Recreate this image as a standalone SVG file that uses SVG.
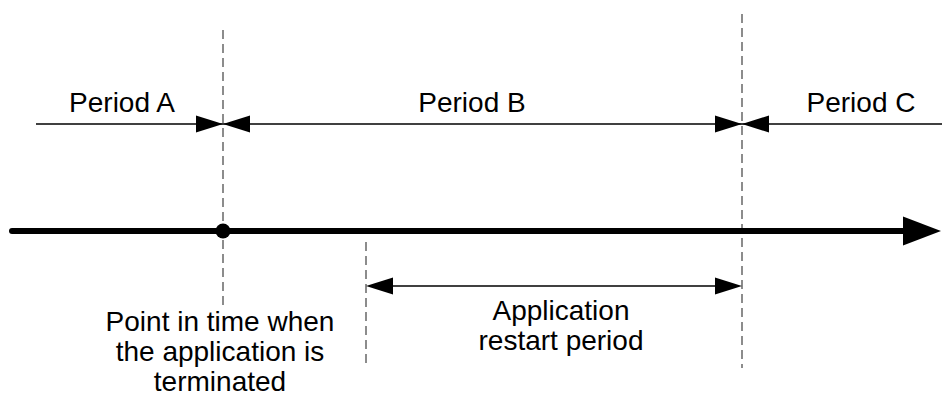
<svg xmlns="http://www.w3.org/2000/svg" width="942" height="400" viewBox="0 0 942 400">
  <style>
    .lbl { font-family: "Liberation Sans", Arial, sans-serif; font-size: 28px; fill: #000; text-anchor: middle; }
    .dash { stroke: #8c8c8c; stroke-width: 2; stroke-dasharray: 9 5; fill: none; }
    .thin { stroke: #000; stroke-width: 1.4; fill: none; }
    .head { fill: #000; stroke: none; }
  </style>
  <defs>
    <path id="hr" class="head" d="M0,0 L-27,-8.5 L-27,8.5 Z"/>
    <path id="hl" class="head" d="M0,0 L27,-8.5 L27,8.5 Z"/>
  </defs>
  <g id="guides">
    <line class="dash" x1="223" y1="30" x2="223" y2="306"/>
    <line class="dash" x1="742" y1="14" x2="742" y2="368"/>
    <line class="dash" x1="366" y1="242" x2="366" y2="368"/>
  </g>
  <g id="connectors">
    <line class="thin" x1="36" y1="124" x2="942" y2="124"/>
    <use href="#hr" x="223" y="124"/>
    <use href="#hl" x="223" y="124"/>
    <use href="#hr" x="742" y="124"/>
    <use href="#hl" x="742" y="124"/>
    <line class="thin" x1="370" y1="286" x2="738" y2="286"/>
    <use href="#hl" x="366" y="286"/>
    <use href="#hr" x="742" y="286"/>
    <line x1="12" y1="231" x2="910" y2="231" stroke="#000" stroke-width="6" stroke-linecap="round"/>
    <path class="head" d="M941,231 L903,216.5 L903,245.5 Z"/>
  </g>
  <g id="termination-point">
    <circle cx="223" cy="231" r="7.5" fill="#000"/>
  </g>
  <g id="period-a"><text class="lbl" x="122" y="112">Period A</text></g>
  <g id="period-b"><text class="lbl" x="472" y="112">Period B</text></g>
  <g id="period-c"><text class="lbl" x="861" y="112">Period C</text></g>
  <g id="restart-label">
    <text class="lbl" x="561" y="320">Application</text>
    <text class="lbl" x="561" y="350">restart period</text>
  </g>
  <g id="termination-label">
    <text class="lbl" x="220" y="331">Point in time when</text>
    <text class="lbl" x="220" y="361">the application is</text>
    <text class="lbl" x="220" y="391">terminated</text>
  </g>
</svg>
